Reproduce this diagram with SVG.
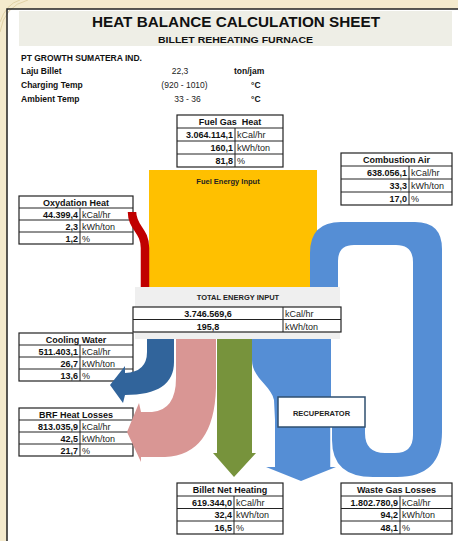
<svg xmlns="http://www.w3.org/2000/svg" width="458" height="541" viewBox="0 0 458 541">
<style>
.tbox{fill:#fff;stroke:#222;stroke-width:1.2}
.ln{stroke:#222;stroke-width:1;fill:none}
.h{font-family:"Liberation Sans",Arial,sans-serif;font-weight:bold;font-size:9px;text-anchor:middle;fill:#111}
.v{font-family:"Liberation Sans",Arial,sans-serif;font-weight:bold;font-size:9px;text-anchor:end;fill:#111}
.u{font-family:"Liberation Sans",Arial,sans-serif;font-size:9px;fill:#222}
.lbl{font-family:"Liberation Sans",Arial,sans-serif;font-weight:bold;font-size:7.5px;text-anchor:middle;fill:#222}
.info{font-family:"Liberation Sans",Arial,sans-serif;font-weight:bold;font-size:8.5px;fill:#111}
.infov{font-family:"Liberation Sans",Arial,sans-serif;font-size:8.5px;fill:#222;text-anchor:middle}
</style>
<rect x="0" y="0" width="458" height="541" fill="#fff"/>
<g id="background">
<rect x="0" y="0" width="458" height="9" fill="#F4EACD"/>
<rect x="0" y="0" width="7" height="541" fill="#F4EACD"/>
<path d="M0,32 Q4,6 28,0 M0,22 Q6,4 20,0" stroke="#DCCB9C" stroke-width="0.8" fill="none"/>
<path d="M7,541 L7,9 L458,9" stroke="#222" stroke-width="1.5" fill="none"/>
</g>
<g id="header">
<rect x="19" y="11" width="433" height="35" fill="#EEEEE6"/>
<text x="236" y="27" font-family="Liberation Sans,Arial,sans-serif" font-weight="bold" font-size="15.5" text-anchor="middle" fill="#111" textLength="288" lengthAdjust="spacingAndGlyphs">HEAT BALANCE CALCULATION SHEET</text>
<text x="235.5" y="43" font-family="Liberation Sans,Arial,sans-serif" font-weight="bold" font-size="9.5" text-anchor="middle" fill="#111" textLength="155" lengthAdjust="spacingAndGlyphs">BILLET REHEATING FURNACE</text>
</g>
<g id="info">
<text class="info" x="21" y="61">PT GROWTH SUMATERA IND.</text>
<text class="info" x="21" y="74">Laju Billet</text>
<text class="info" x="21" y="88">Charging Temp</text>
<text class="info" x="21" y="102">Ambient Temp</text>
<text class="infov" x="180" y="74">22,3</text>
<text class="infov" x="184.5" y="88">(920 - 1010)</text>
<text class="infov" x="187.5" y="102">33 - 36</text>
<text class="info" x="234" y="74" font-weight="normal">ton/jam</text>
<text class="info" x="251" y="88" font-weight="normal">°C</text>
<text class="info" x="251" y="102" font-weight="normal">°C</text>
</g>
<g id="fuel-gas-heat">
<rect class="tbox" x="177" y="115" width="106" height="52"/>
<path class="ln" d="M177,128H283M177,141H283M177,154H283M235,128V167"/>
<text class="h" x="230" y="125" style="white-space:pre">Fuel Gas  Heat</text>
<text class="v" x="233" y="138">3.064.114,1</text><text class="u" x="237" y="138">kCal/hr</text>
<text class="v" x="233" y="151">160,1</text><text class="u" x="237" y="151">kWh/ton</text>
<text class="v" x="233" y="164">81,8</text><text class="u" x="237" y="164">%</text>
</g>
<g id="combustion-air">
<rect class="tbox" x="341" y="153" width="111" height="52"/>
<path class="ln" d="M341,166H452M341,179H452M341,192H452M409,166V205"/>
<text class="h" x="396.5" y="163">Combustion Air</text>
<text class="v" x="407" y="176">638.056,1</text><text class="u" x="411" y="176">kCal/hr</text>
<text class="v" x="407" y="189">33,3</text><text class="u" x="411" y="189">kWh/ton</text>
<text class="v" x="407" y="202">17,0</text><text class="u" x="411" y="202">%</text>
</g>
<g id="oxydation-heat">
<rect class="tbox" x="19" y="196" width="114" height="48"/>
<path class="ln" d="M19,208H133M19,220H133M19,232H133M80,208V244"/>
<text class="h" x="76" y="205.5">Oxydation Heat</text>
<text class="v" x="78" y="217.5">44.399,4</text><text class="u" x="82" y="217.5">kCal/hr</text>
<text class="v" x="78" y="229.5">2,3</text><text class="u" x="82" y="229.5">kWh/ton</text>
<text class="v" x="78" y="241.5">1,2</text><text class="u" x="82" y="241.5">%</text>
</g>
<g id="cooling-water">
<rect class="tbox" x="19" y="333" width="114" height="48"/>
<path class="ln" d="M19,345H133M19,357H133M19,369H133M80,345V381"/>
<text class="h" x="76" y="342.5">Cooling Water</text>
<text class="v" x="78" y="354.5">511.403,1</text><text class="u" x="82" y="354.5">kCal/hr</text>
<text class="v" x="78" y="366.5">26,7</text><text class="u" x="82" y="366.5">kWh/ton</text>
<text class="v" x="78" y="378.5">13,6</text><text class="u" x="82" y="378.5">%</text>
</g>
<g id="brf-heat-losses">
<rect class="tbox" x="19" y="408" width="114" height="48"/>
<path class="ln" d="M19,420H133M19,432H133M19,444H133M80,420V456"/>
<text class="h" x="76" y="417.5">BRF Heat Losses</text>
<text class="v" x="78" y="429.5">813.035,9</text><text class="u" x="82" y="429.5">kCal/hr</text>
<text class="v" x="78" y="441.5">42,5</text><text class="u" x="82" y="441.5">kWh/ton</text>
<text class="v" x="78" y="453.5">21,7</text><text class="u" x="82" y="453.5">%</text>
</g>
<g id="billet-net-heating">
<rect class="tbox" x="177" y="483" width="106" height="51"/>
<path class="ln" d="M177,496H283M177,508.5H283M177,521H283M234,496V534"/>
<text class="h" x="230" y="493">Billet Net Heating</text>
<text class="v" x="232" y="505.5">619.344,0</text><text class="u" x="236" y="505.5">kCal/hr</text>
<text class="v" x="232" y="518">32,4</text><text class="u" x="236" y="518">kWh/ton</text>
<text class="v" x="232" y="531">16,5</text><text class="u" x="236" y="531">%</text>
</g>
<g id="waste-gas-losses">
<rect class="tbox" x="341" y="483" width="111" height="51"/>
<path class="ln" d="M341,496H452M341,508.5H452M341,521H452M400,496V534"/>
<text class="h" x="396.5" y="493">Waste Gas Losses</text>
<text class="v" x="398" y="505.5">1.802.780,9</text><text class="u" x="402" y="505.5">kCal/hr</text>
<text class="v" x="398" y="518">94,2</text><text class="u" x="402" y="518">kWh/ton</text>
<text class="v" x="398" y="531">48,1</text><text class="u" x="402" y="531">%</text>
</g>
<g id="fuel-energy-input">
<rect x="149" y="170" width="168" height="117" fill="#FFC000"/>
<text class="lbl" x="228" y="184">Fuel Energy Input</text>
</g>
<g id="connectors">
<path id="oxydation-flow" d="M132,212 C132,228 145,230 145,248 L145,287" stroke="#C00000" stroke-width="8.5" fill="none"/>
<path id="combustion-air-loop" d="M310,300 L310,253 Q310,222 341,222 L415,222 Q442,222 442,249 L442,432 Q442,477 397,477 L373,477 Q332,477 332,440 L332,420 L365,420 L365,433 Q365,453 385,453 L395,453 Q413,453 413,435 L413,262 Q413,245 396,245 L354,245 Q338,245 338,261 L338,300 Z" fill="#558ED5"/>
<path id="waste-gas-flow" d="M252,330 L331,330 L331,467 L336,467 L301,481 L266,467 L275,467 L275,420 L274,400 C271,385 252,378 252,360 Z" fill="#558ED5"/>
<line x1="331" y1="427" x2="331" y2="467" stroke="#fff" stroke-width="1.5"/>
<path id="cooling-flow" d="M147,330 L174,330 L174,362 Q174,395 125,395 L123,403 L110,385 L125,366 L125,373 Q147,372 147,352 Z" fill="#31649B"/>
<path id="brf-flow" d="M176,330 L216,330 L216,388 Q214,455 165,457 L141,457 L141,462 L127,432 L139,403 L141,412 L152,412 Q176,410 176,378 Z" fill="#D99694"/>
<path id="billet-flow" d="M217,330 L252,330 L252,453 L256,453 L234,477 L213,453 L217,453 Z" fill="#77933C"/>
</g>
<g id="total-energy-input">
<rect x="135" y="287" width="205" height="52" fill="#EFEFEF"/>
<text class="lbl" x="238" y="299.5">TOTAL ENERGY INPUT</text>
<rect class="tbox" x="133" y="307" width="208" height="25"/>
<path class="ln" d="M133,319.5H341M283,307V332"/>
<text class="v" x="208" y="317" text-anchor="middle" style="text-anchor:middle">3.746.569,6</text><text class="u" x="285" y="317">kCal/hr</text>
<text class="v" x="208" y="329.5" style="text-anchor:middle">195,8</text><text class="u" x="285" y="329.5">kWh/ton</text>
</g>
<g id="recuperator">
<rect x="278" y="397" width="87" height="30" fill="#fff" stroke="#2F4F6F" stroke-width="1.5"/>
<text class="lbl" x="321.5" y="415.5">RECUPERATOR</text>
</g>
</svg>
